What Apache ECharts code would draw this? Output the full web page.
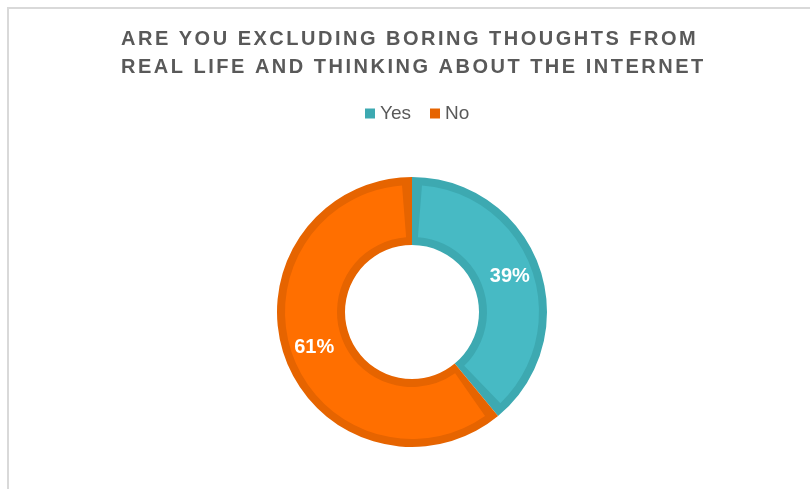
<!DOCTYPE html>
<html>
<head>
<meta charset="utf-8">
<style>
  html, body { margin: 0; padding: 0; background: #ffffff; }
  #chart { width: 810px; height: 489px; }
</style>
<script src="https://cdn.jsdelivr.net/npm/echarts@6/dist/echarts.min.js"></script>
</head>
<body>
<div id="chart"></div>
<script>
// Survey answers
const categories = ['Yes', 'No'];
const shares = [39, 61];            // percent of respondents
const titleLines = [
  'ARE YOU EXCLUDING BORING THOUGHTS FROM',
  'REAL LIFE AND THINKING ABOUT THE INTERNET'
];

const fillColors = ['#47BAC4', '#FF6F00'];
const edgeColors = ['#3DA9B1', '#E66400'];

// Tracked (letter-spaced) capitals for the heading: canvas supports
// ctx.letterSpacing, so apply it whenever the heading font is selected.
const TRACKED_FAMILY = 'Arimo';
(function () {
  const proto = CanvasRenderingContext2D.prototype;
  const desc = Object.getOwnPropertyDescriptor(proto, 'font');
  if (!desc || !('letterSpacing' in proto)) return;
  Object.defineProperty(proto, 'font', {
    configurable: true,
    get() { return desc.get.call(this); },
    set(v) {
      desc.set.call(this, v);
      this.letterSpacing = String(v).indexOf(TRACKED_FAMILY) >= 0 ? '2.5px' : '0px';
    }
  });
})();

const chart = echarts.init(document.getElementById('chart'), null, { renderer: 'canvas' });

const ringData = (colors) => categories.map((name, i) => ({
  name, value: shares[i], itemStyle: { color: colors[i] }
}));

chart.setOption({
  animation: false,
  backgroundColor: '#ffffff',
  graphic: [{
    type: 'rect',
    silent: true,
    shape: { x: 8, y: 8, width: 900, height: 600 },
    style: { fill: 'none', stroke: '#D9D9D9', lineWidth: 2 }
  }],
  title: {
    text: titleLines.join('\n'),
    left: 116,
    top: 20,
    textStyle: {
      fontFamily: "'Liberation Sans', " + TRACKED_FAMILY + ", sans-serif",
      fontSize: 20,
      fontWeight: 'bold',
      color: '#595959',
      lineHeight: 28
    }
  },
  legend: {
    top: 99,
    left: 360,
    icon: 'rect',
    itemWidth: 10,
    itemHeight: 10,
    itemGap: 19,
    selectedMode: false,
    textStyle: { fontFamily: "'Liberation Sans', sans-serif", fontSize: 19, color: '#595959' },
    data: categories.map((name, i) => ({ name, itemStyle: { color: edgeColors[i] } }))
  },
  series: [
    {
      // darker rim of each slice
      type: 'pie',
      center: [412, 312],
      radius: [67, 135],
      silent: true,
      label: { show: false },
      labelLine: { show: false },
      data: ringData(edgeColors)
    },
    {
      // slice fill, inset from the rim
      type: 'pie',
      center: [412, 312],
      radius: [75, 127],
      padAngle: 9,
      silent: true,
      label: {
        show: true,
        position: 'inside',
        formatter: '{c}%',
        color: '#ffffff',
        fontFamily: "'Liberation Sans', sans-serif",
        fontSize: 20,
        fontWeight: 'bold'
      },
      labelLine: { show: false },
      data: ringData(fillColors)
    }
  ]
});
</script>
</body>
</html>
